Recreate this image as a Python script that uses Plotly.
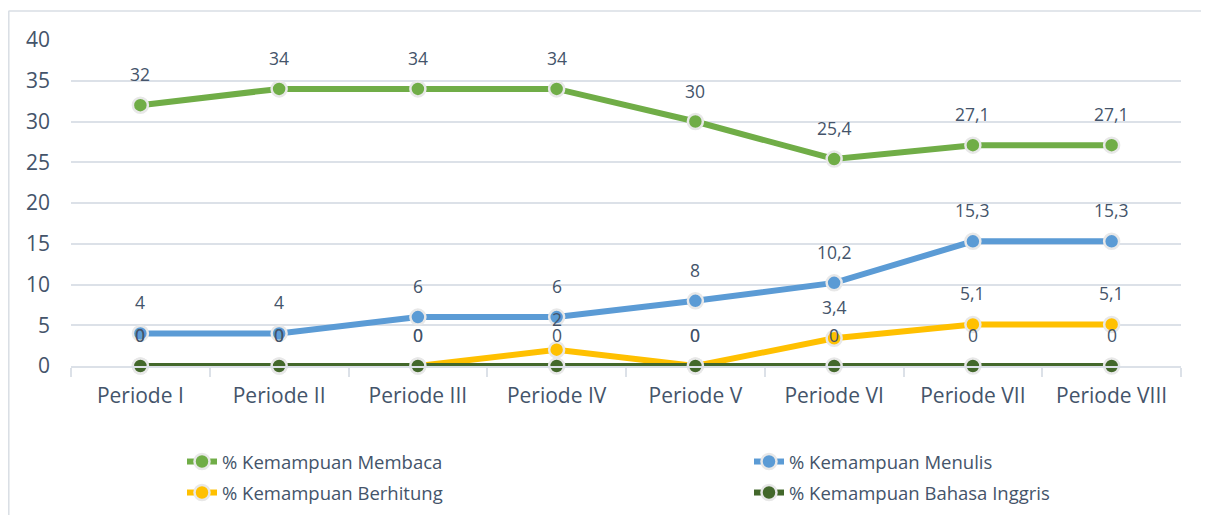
import plotly.graph_objects as go

categories = ["Periode I", "Periode II", "Periode III", "Periode IV",
              "Periode V", "Periode VI", "Periode VII", "Periode VIII"]
membaca = [32, 34, 34, 34, 30, 25.4, 27.1, 27.1]
menulis = [4, 4, 6, 6, 8, 10.2, 15.3, 15.3]
berhitung = [0, 0, 0, 2, 0, 3.4, 5.1, 5.1]
inggris = [0, 0, 0, 0, 0, 0, 0, 0]

series_names = ["% Kemampuan Membaca", "% Kemampuan Menulis",
                "% Kemampuan Berhitung", "% Kemampuan Bahasa Inggris"]
series_values = [membaca, menulis, berhitung, inggris]
colors = ["#70AD47", "#5B9BD5", "#FFC000", "#43682B"]
legend_ids = ["legend", "legend2", "legend3", "legend4"]

TEXT = "#44546A"
GRID = "#DCE1E8"
FONT = "Open Sans"

OFF = 8  # default page body margin
W, H = 1201, 507
ML, MT = 63, 32
PW, PH = 1110, 326
MR = W - ML - PW
MB = H - MT - PH


def px_x(p):
    """page pixel x -> paper coordinate"""
    return (p - OFF - ML) / PW


def px_y(p):
    """page pixel y -> paper coordinate"""
    return (MT + PH - (p - OFF)) / PH


fig = go.Figure()
for i in range(4):
    fig.add_trace(go.Scatter(
        x=categories, y=series_values[i], name=series_names[i],
        mode="lines+markers",
        line=dict(color=colors[i], width=6),
        marker=dict(color=colors[i], size=15, line=dict(color="#E8E8E8", width=2.5)),
        cliponaxis=False,
        legend=legend_ids[i],
    ))


def fmt(v):
    return ("%g" % v).replace(".", ",")


annotations = []
for vals in series_values:
    for c, v in zip(categories, vals):
        annotations.append(dict(
            x=c, y=v, text=fmt(v), showarrow=False, yshift=31,
            font=dict(family=FONT, size=17.5, color=TEXT),
            xanchor="center", yanchor="middle",
        ))

shapes = [
    dict(type="line", xref="paper", yref="paper", x0=px_x(8.5), x1=px_x(1215),
         y0=px_y(11), y1=px_y(11), line=dict(color="#D9DEE4", width=1.5)),
    dict(type="line", xref="paper", yref="paper", x0=px_x(8.8), x1=px_x(8.8),
         y0=px_y(11), y1=px_y(520), line=dict(color="#D9DEE4", width=1.5)),
]

# legend placement in page pixels (legend box left x, row center y)
legend_pos = [(182, 462), (749, 462), (182, 493), (749, 493)]
legend_layout = {}
for lid, (lx, ly) in zip(legend_ids, legend_pos):
    legend_layout[lid] = dict(
        orientation="h", x=px_x(lx), y=px_y(ly), xanchor="left", yanchor="middle",
        font=dict(family=FONT, size=18.5, color=TEXT), bgcolor="rgba(0,0,0,0)",
    )

fig.update_layout(
    width=W, height=H,
    margin=dict(l=ML, r=MR, t=MT, b=MB, autoexpand=False),
    paper_bgcolor="white", plot_bgcolor="white",
    font=dict(family=FONT, color=TEXT),
    annotations=annotations,
    shapes=shapes,
    xaxis=dict(
        type="category", range=[-0.5, 7.5],
        showgrid=False, showline=True, linecolor=GRID, linewidth=1.5,
        ticks="outside", tickson="boundaries", ticklen=9, tickcolor=GRID, tickwidth=1.5,
        tickfont=dict(family=FONT, size=21, color=TEXT),
        ticklabelstandoff=10,
        zeroline=False,
    ),
    yaxis=dict(
        range=[0, 40], dtick=5, showgrid=True, gridcolor=GRID, gridwidth=1.5,
        zeroline=False, showline=False, ticks="",
        tickfont=dict(family=FONT, size=21, color=TEXT),
        ticklabelstandoff=20,
    ),
    showlegend=True,
    **legend_layout,
)

fig.write_html("out.html")
